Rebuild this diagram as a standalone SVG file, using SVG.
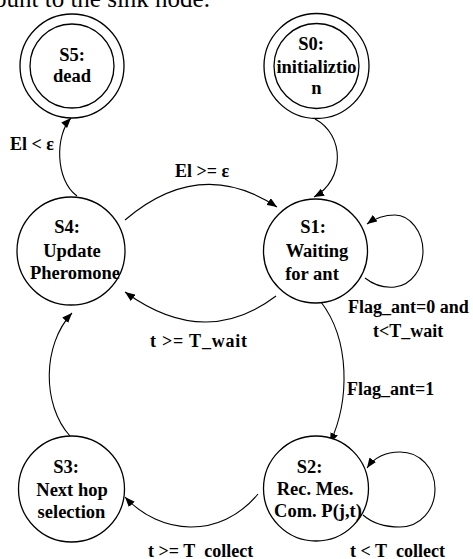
<svg xmlns="http://www.w3.org/2000/svg" width="473" height="559" viewBox="0 0 473 559">
<style>
.st{fill:#fff;stroke:#000;stroke-width:1.3}
.ed{fill:none;stroke:#000;stroke-width:1.1}
.t{font-family:"Liberation Serif","Noto Sans CJK SC",serif;font-weight:bold;font-size:18.5px;fill:#000;text-anchor:middle}
.l{font-family:"Liberation Serif","Noto Sans CJK SC",serif;font-weight:bold;font-size:18px;fill:#000}
.hdr{font-family:"Liberation Serif",serif;font-size:25px;fill:#000}
</style>
<defs>
<marker id="ah" viewBox="0 0 10 8" refX="10" refY="4" markerWidth="10" markerHeight="8" markerUnits="userSpaceOnUse" orient="auto">
<path d="M0,0 L10,4 L0,8 Z" fill="#000"/>
</marker>
<clipPath id="bc"><rect x="0" y="0" width="473" height="557"/></clipPath>
</defs>
<text class="hdr" x="-6" y="7">ount to the sink node.</text>
<g id="edges">
<path class="ed" d="M315,119 C345,135 345,180 314,197" marker-end="url(#ah)"/>
<path class="ed" d="M77,196 C55,180 55,135 71,118" marker-end="url(#ah)"/>
<path class="ed" d="M125,220 Q200,156 277,207" marker-end="url(#ah)"/>
<path class="ed" d="M276,296 Q205,350 125,292" marker-end="url(#ah)"/>
<path class="ed" d="M365,278 C375,286 385,288 395,287 C412,285 423,268 423,251 C423,232 410,215 395,215 C383,215 374,219 367,224" marker-end="url(#ah)"/>
<path class="ed" d="M321,302 C350,340 350,400 330,443" marker-end="url(#ah)"/>
<path class="ed" d="M363,515 C372,523 386,527 400,527 C420,527 435,510 435,489 C435,468 420,452 400,452 C386,452 374,458 367,468" marker-end="url(#ah)"/>
<path class="ed" d="M258,494 C220,540 160,535 125,497" marker-end="url(#ah)"/>
<path class="ed" d="M70,436 C42,405 42,345 72,313" marker-end="url(#ah)"/>
</g>
<g id="S5">
<circle class="st" cx="72" cy="66" r="52"/>
<circle class="st" cx="72" cy="66" r="42"/>
<text class="t" x="72" y="61">S5:</text>
<text class="t" x="72" y="82">dead</text>
</g>
<g id="S0">
<circle class="st" cx="316.5" cy="66" r="52.5"/>
<circle class="st" cx="316.5" cy="66" r="42.5"/>
<text class="t" x="311" y="50">S0:</text>
<text class="t" x="316.5" y="73">initializtio</text>
<text class="t" x="316.5" y="94">n</text>
</g>
<g id="S4">
<circle class="st" cx="71" cy="251" r="54"/>
<text class="t" x="67" y="233">S4:</text>
<text class="t" x="72" y="257">Update</text>
<text class="t" x="75" y="279">Pheromone</text>
</g>
<g id="S1">
<circle class="st" cx="315.5" cy="251" r="52"/>
<text class="t" x="313" y="233">S1:</text>
<text class="t" x="317" y="257">Waiting</text>
<text class="t" x="312" y="280">for ant</text>
</g>
<g id="S3">
<circle class="st" cx="71.5" cy="489" r="53"/>
<text class="t" x="66" y="473">S3:</text>
<text class="t" x="72" y="496">Next hop</text>
<text class="t" x="71.5" y="518">selection</text>
</g>
<g id="S2">
<circle class="st" cx="316" cy="488.5" r="52.5"/>
<text class="t" x="309.5" y="473">S2:</text>
<text class="t" x="315" y="495">Rec. Mes.</text>
<text class="t" x="318" y="517">Com. P(j,t)</text>
</g>
<g id="labels">
<text class="l" x="10" y="150">El &lt; ε</text>
<text class="l" x="175" y="177">El &gt;= ε</text>
<text class="l" x="150" y="347" textLength="97" lengthAdjust="spacing">t &gt;= T_wait</text>
<text class="l" x="348" y="313">Flag_ant=0 and</text>
<text class="l" x="373" y="337">t&lt;T_wait</text>
<text class="l" x="347" y="395">Flag_ant=1</text>
<g clip-path="url(#bc)">
<text class="l" x="148" y="556.5">t &gt;= T_collect</text>
<text class="l" x="350" y="556.5">t &lt; T_collect</text>
</g>
</g>
</svg>
